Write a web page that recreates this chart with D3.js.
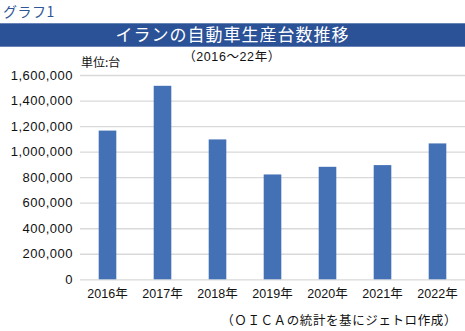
<!DOCTYPE html>
<html><head><meta charset="utf-8">
<script src="https://cdn.jsdelivr.net/npm/d3@7"></script>
<style>
html,body{margin:0;padding:0;background:#fff;}
svg{display:block;}
</style></head>
<body>
<svg id="chart" width="465" height="331"></svg>
<script>
const years = ["2016年","2017年","2018年","2019年","2020年","2021年","2022年"];
const production = [1164710, 1515396, 1095526, 821060, 880997, 894298, 1064215];
const yTicks = [0,200000,400000,600000,800000,1000000,1200000,1400000,1600000];
const label = "グラフ1";
const title = "イランの自動車生産台数推移";
const subtitle = "（2016～22年）";
const unit = "単位:台";
const source = "（ＯＩＣＡの統計を基にジェトロ作成）";

const svg = d3.select("#chart");
const jp = "'Noto Sans CJK JP', sans-serif";
const num = "'Liberation Sans', 'Noto Sans CJK JP', sans-serif";

const x = d3.scaleBand().domain(years).range([80, 465]).paddingInner(0.68).paddingOuter(0.34);
const y = d3.scaleLinear().domain([0, 1600000]).range([279.3, 75]);

svg.append("text").attr("x", 3).attr("y", 17).attr("font-family", jp).attr("font-size", 14)
  .attr("letter-spacing", 0.5).attr("fill", "#2F5597").text(label);

svg.append("rect").attr("x", 0).attr("y", 23.3).attr("width", 465).attr("height", 23.4).attr("fill", "#2B5197");
svg.append("text").attr("x", 232.5).attr("y", 35).attr("dy", "0.36em").attr("text-anchor", "middle")
  .attr("font-family", jp).attr("font-size", 17).attr("letter-spacing", 1).attr("fill", "#fff").text(title);

svg.append("text").attr("x", 232).attr("y", 56).attr("dy", "0.36em").attr("text-anchor", "middle")
  .attr("font-family", num).attr("font-size", 12.5).attr("letter-spacing", 0.6).attr("fill", "#111").text(subtitle);

svg.append("text").attr("x", 81).attr("y", 63).attr("dy", "0.36em")
  .attr("font-family", jp).attr("font-size", 12).attr("fill", "#111").text(unit);

// gridlines
const yAxis = d3.axisLeft(y).tickValues(yTicks).tickSize(-385).tickPadding(7)
  .tickFormat(d => d3.format(",")(d));
const gy = svg.append("g").attr("transform", "translate(80,0)").call(yAxis);
gy.select(".domain").remove();
gy.selectAll(".tick line").attr("stroke", "#d9d9d9").attr("stroke-width", 1.3);
gy.selectAll(".tick text").attr("font-family", num).attr("font-size", 13).attr("fill", "#111")
  .attr("letter-spacing", 0.5);

svg.append("g").selectAll("rect").data(production).join("rect")
  .attr("x", (d, i) => x(years[i]))
  .attr("y", d => y(d))
  .attr("width", x.bandwidth())
  .attr("height", d => y(0) - y(d))
  .attr("fill", "#4470B6");

const xAxis = d3.axisBottom(x).tickSize(0).tickPadding(10);
const gx = svg.append("g").attr("transform", "translate(0,279.3)").call(xAxis);
gx.select(".domain").remove();
gx.selectAll(".tick text").attr("font-family", num).attr("font-size", 12.5).attr("fill", "#111");

svg.append("text").attr("x", 457).attr("y", 320).attr("dy", "0.36em").attr("text-anchor", "end")
  .attr("font-family", jp).attr("font-size", 12.5).attr("letter-spacing", 0.6).attr("fill", "#111").text(source);
</script>
</body></html>
